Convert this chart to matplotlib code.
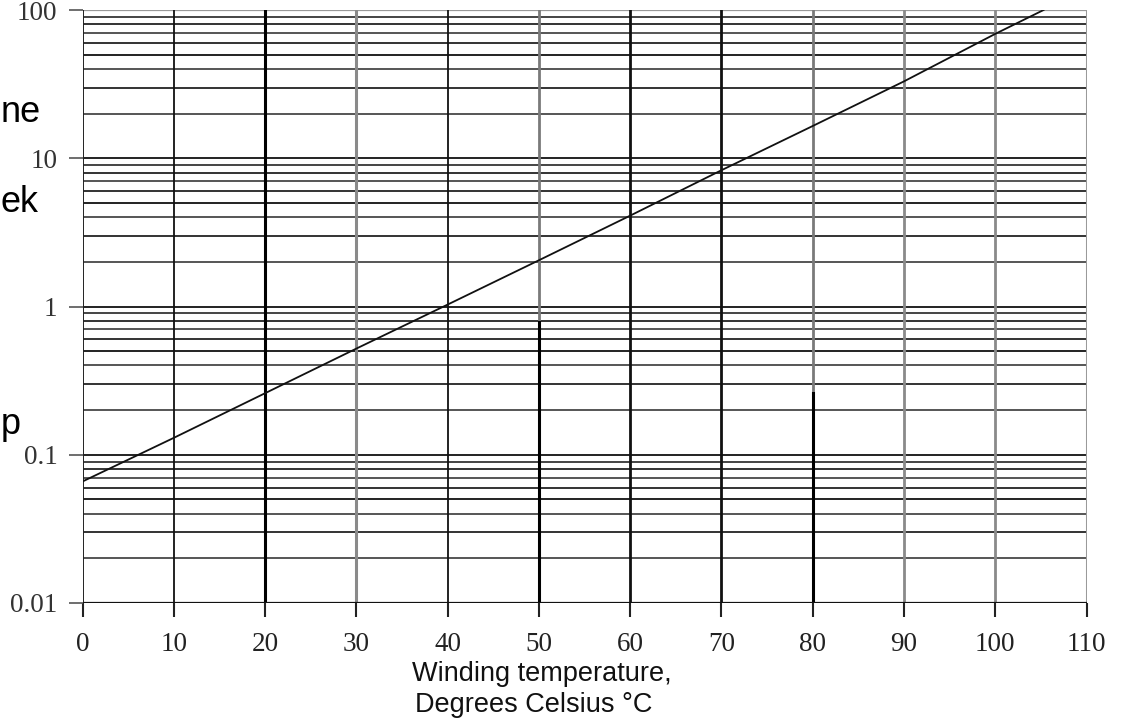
import matplotlib
matplotlib.use("Agg")
import matplotlib.pyplot as plt

# ---- data ----
temps = [0, 10, 20, 30, 40, 50, 60, 70, 80, 90, 100, 105.3]
aging = [0.066, 0.13, 0.26, 0.52, 1.03, 2.05, 4.1, 8.3, 16.5, 33, 69, 100]

x_ticks = [0, 10, 20, 30, 40, 50, 60, 70, 80, 90, 100, 110]
y_ticks = [0.01, 0.1, 1, 10, 100]
y_tick_labels = ["0.01", "0.1", "1", "10", "100"]
decades = [0.01, 0.1, 1, 10]
multipliers = [1, 2, 3, 4, 5, 6, 7, 8, 9]

xlabel_lines = ["Winding temperature,", "Degrees Celsius °C"]
side_fragments = ["ne", "ek", "p"]

# ---- figure ----
W, H = 1138, 718
fig = plt.figure(figsize=(W / 100, H / 100), dpi=100)
ax = fig.add_axes([82.5 / W, 1 - 603 / H, (1086.5 - 82.5) / W, (603 - 10) / H])
ax.set_yscale("log")
ax.set_xlim(0, 110)
ax.set_ylim(0.01, 100)

# horizontal grid
hcols = {1: "#222222", 2: "#555555", 3: "#333333", 4: "#555555", 5: "#222222",
         6: "#333333", 7: "#555555", 8: "#333333", 9: "#444444"}
for d in decades:
    for m in multipliers:
        v = d * m
        if v <= 0.01:
            continue
        ax.axhline(v, color=hcols[m], lw=1.4, zorder=1)
ax.axhline(100, color="#999999", lw=1.6, zorder=1)

# vertical grid
vstyle = {0: ("#222222", 1.4), 10: ("#111111", 1.3), 20: ("#000000", 2.2),
          30: ("#8a8a8a", 2.2), 40: ("#111111", 1.3), 50: ("#7a7a7a", 2.0),
          60: ("#111111", 2.0), 70: ("#111111", 2.0), 80: ("#7a7a7a", 2.0),
          90: ("#8a8a8a", 2.0), 100: ("#8a8a8a", 2.0), 110: ("#9a9a9a", 2.2)}
for xv in x_ticks:
    c, lw = vstyle[xv]
    ax.axvline(xv, color=c, lw=lw, zorder=1)
# darker lower segments seen in the scan
ax.plot([50, 50], [0.01, 0.79], color="#000000", lw=2.2, zorder=1.5)
ax.plot([80, 80], [0.01, 0.26], color="#000000", lw=2.2, zorder=1.5)

# curve
ax.plot(temps, aging, color="#111111", lw=1.3, zorder=3)

# spines and ticks
for s in ax.spines.values():
    s.set_visible(False)
ax.axhline(0.01, color="#111111", lw=1.6, zorder=2)

ax.set_xticks(x_ticks)
ax.set_xticklabels([str(t) for t in x_ticks], family="Liberation Serif",
                   fontsize=19.5, color="#222222")
ax.set_yticks(y_ticks)
ax.set_yticklabels(y_tick_labels, family="Liberation Serif", fontsize=19.5,
                   color="#333333")
ax.yaxis.set_minor_locator(matplotlib.ticker.NullLocator())
ax.tick_params(axis="x", length=10, width=1.5, color="#222222", pad=11)
ax.tick_params(axis="y", length=10, width=1.2, color="#555555", pad=8)

# x label (two lines, left-aligned)
fig.text(412 / W, 1 - 681 / H, xlabel_lines[0], family="Liberation Sans",
         fontsize=19.5, color="#111111", ha="left", va="baseline")
fig.text(415 / W, 1 - 712 / H, xlabel_lines[1], family="Liberation Sans",
         fontsize=19.5, color="#111111", ha="left", va="baseline")

# text fragments at left edge
fig.text(1 / W, 1 - 122 / H, side_fragments[0], family="Liberation Sans",
         fontsize=26, color="#000000", ha="left", va="baseline")
fig.text(1 / W, 1 - 212 / H, side_fragments[1], family="Liberation Sans",
         fontsize=26, color="#000000", ha="left", va="baseline")
fig.text(1 / W, 1 - 434 / H, side_fragments[2], family="Liberation Sans",
         fontsize=26, color="#000000", ha="left", va="baseline")

fig.savefig("out.png", dpi=100, facecolor="white")
